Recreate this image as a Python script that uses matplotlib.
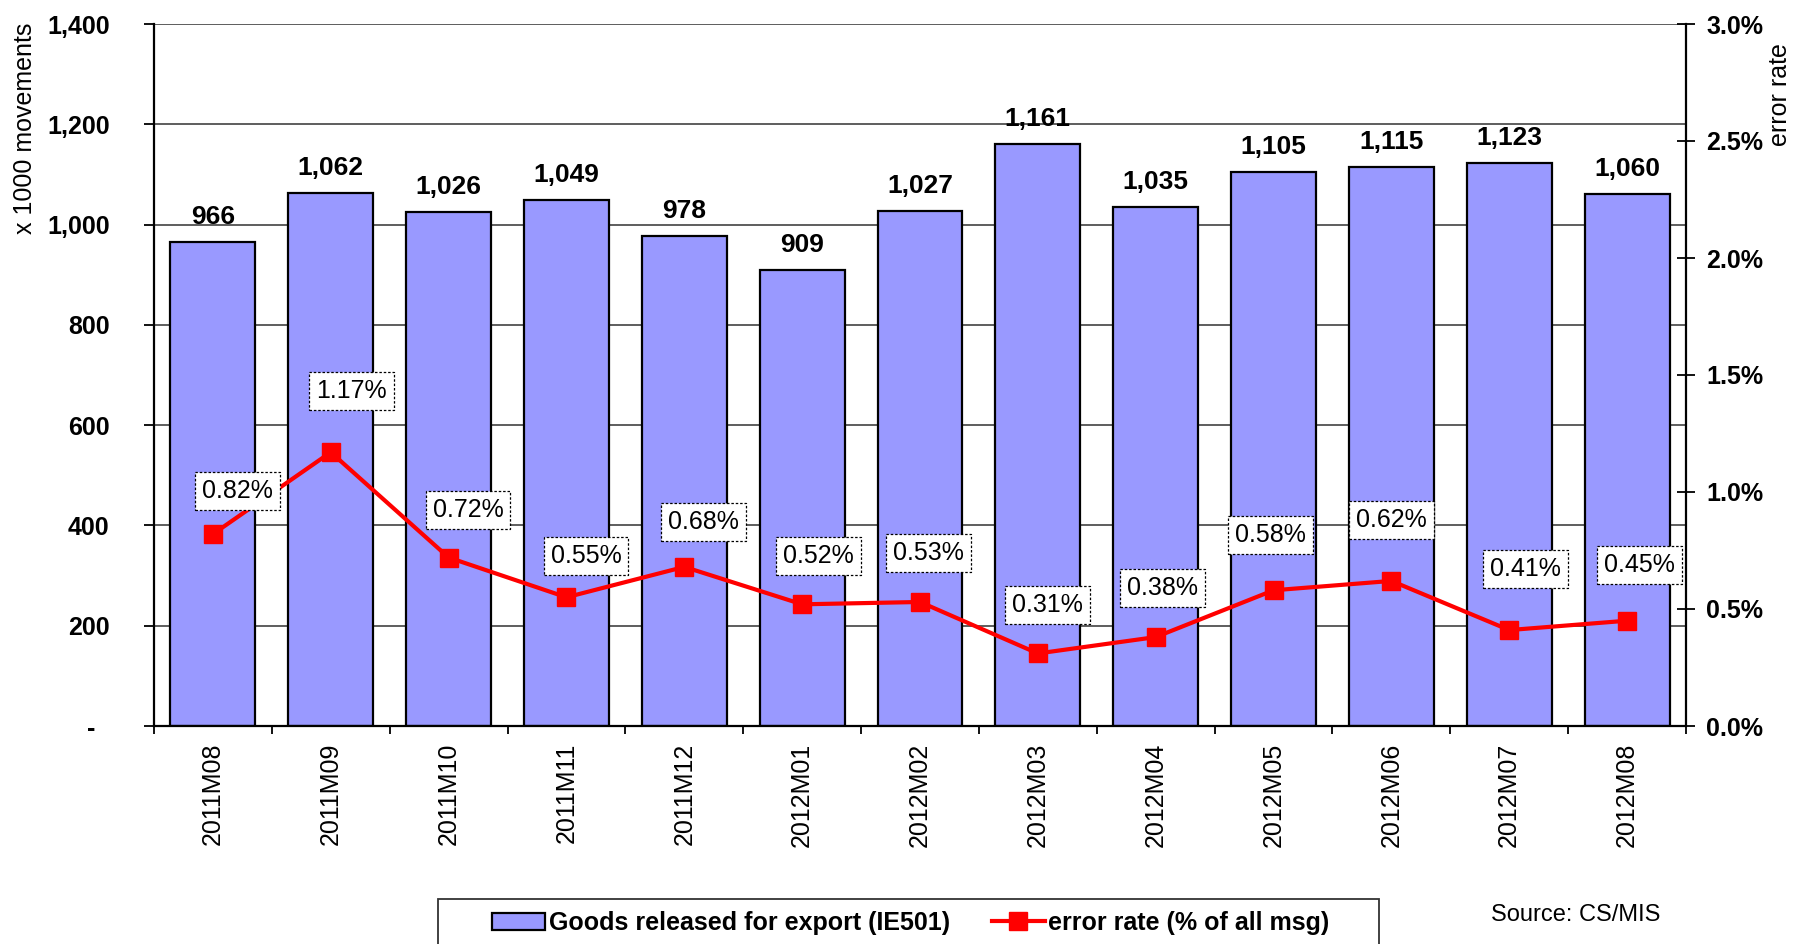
"""
Goods released for export (IE501) with error rate, 2011M08 - 2012M08.
"""
import numpy as np
import matplotlib as mpl
mpl.use('Agg')
import matplotlib.pyplot as plt
from matplotlib.ticker import FuncFormatter
from matplotlib.patches import Rectangle

months = ['2011M08', '2011M09', '2011M10', '2011M11', '2011M12', '2012M01',
          '2012M02', '2012M03', '2012M04', '2012M05', '2012M06', '2012M07',
          '2012M08']
goods = [966, 1062, 1026, 1049, 978, 909, 1027, 1161, 1035, 1105, 1115,
         1123, 1060]
err_rate = [0.82, 1.17, 0.72, 0.55, 0.68, 0.52, 0.53, 0.31, 0.38, 0.58, 0.62,
            0.41, 0.45]
left_ticks = [0, 200, 400, 600, 800, 1000, 1200, 1400]
right_ticks = [0.0, 0.5, 1.0, 1.5, 2.0, 2.5, 3.0]

# where the percent boxes sit relative to their marker (points)
label_offsets = [(18, 31), (15, 44), (14, 34), (14, 30), (14, 32), (12, 35),
                 (6, 35), (7, 35), (5, 35), (-2, 40), (0, 44), (12, 44),
                 (9, 40)]

plt.rcParams['font.family'] = ['Liberation Sans', 'DejaVu Sans']

W, H = 1793, 944
fig = plt.figure(figsize=(W / 100, H / 100), dpi=100)
ax = fig.add_axes([154 / W, 1 - 726 / H, (1686 - 154) / W, (726 - 24) / H])

x = np.arange(len(months))
ax.bar(x, goods, width=0.72, color='#9999ff', edgecolor='black',
       linewidth=1.6, zorder=2, label='Goods released for export (IE501)')
for xi, v in zip(x, goods):
    ax.annotate('{:,}'.format(v), (xi, v), xytext=(0, 18),
                textcoords='offset points', ha='center', va='center',
                fontsize=19, fontweight='bold', zorder=4)

ax.set_xlim(-0.5, len(months) - 0.5)
ax.set_ylim(0, 1400)
ax.set_yticks(left_ticks)
ax.yaxis.set_major_formatter(
    FuncFormatter(lambda v, p: '-  ' if v == 0 else '{:,.0f}'.format(v)))
ax.grid(axis='y', color='#505050', linewidth=1.3, zorder=0)
ax.set_axisbelow(True)
ax.set_xticks(x)
ax.set_xticklabels(months, rotation=90, fontsize=18)
ax.set_xticks(np.arange(len(months) + 1) - 0.5, minor=True)
ax.tick_params(axis='x', which='major', length=0, pad=12)
ax.tick_params(axis='x', which='minor', length=6, width=1.3, direction='out')
ax.tick_params(axis='y', length=7, width=1.3, pad=25, labelsize=18)
for lab in ax.get_yticklabels():
    lab.set_fontweight('bold')
ax.spines['top'].set_visible(False)
ax.spines['right'].set_visible(False)
ax.spines['left'].set_linewidth(1.6)
ax.spines['bottom'].set_linewidth(1.6)

ax2 = ax.twinx()
ax2.plot(x, err_rate, color='#ff0000', linewidth=3, marker='s',
         markersize=13, zorder=3, label='error rate (% of all msg)')
for xi, v, off in zip(x, err_rate, label_offsets):
    ax2.annotate('{:.2f}%'.format(v), (xi, v), xytext=off,
                 textcoords='offset points', ha='center', va='center',
                 fontsize=18,
                 bbox=dict(boxstyle='square,pad=0.28', fc='white', ec='black',
                           ls=(0, (2, 1.5)), lw=0.9))
ax2.set_ylim(0, 3.0)
ax2.set_yticks(right_ticks)
ax2.yaxis.set_major_formatter(FuncFormatter(lambda v, p: '{:.1f}%'.format(v)))
ax2.tick_params(axis='y', direction='inout', length=13, width=1.3, pad=8,
                labelsize=18)
for lab in ax2.get_yticklabels():
    lab.set_fontweight('bold')
for side in ['top', 'left', 'bottom']:
    ax2.spines[side].set_visible(False)
ax2.spines['right'].set_linewidth(1.6)

fig.text(25 / W, 1 - 128 / H, 'x 1000 movements', rotation=90, ha='center',
         va='center', fontsize=18)
fig.text(1780 / W, 1 - 95 / H, 'error rate', rotation=90, ha='center',
         va='center', fontsize=18)
fig.text(1576 / W, 1 - 915 / H, 'Source: CS/MIS', ha='center', va='center',
         fontsize=17)

h1, l1 = ax.get_legend_handles_labels()
h2, l2 = ax2.get_legend_handles_labels()
fig.legend(h1 + h2, l1 + l2, loc='center', bbox_to_anchor=(911 / W, 1 - 923 / H),
           ncol=2, frameon=False, handlelength=2.1, handletextpad=0.15,
           columnspacing=1.7,
           prop=dict(family=['Liberation Sans Narrow', 'Liberation Sans'],
                     weight='bold', size=18))
fig.patches.append(Rectangle((438 / W, -0.05), (1379 - 438) / W,
                             0.05 + 1 - 899 / H, transform=fig.transFigure,
                             fill=False, ec='#333333', lw=1.3))

plt.savefig('out.png', dpi=100)
plt.close()
